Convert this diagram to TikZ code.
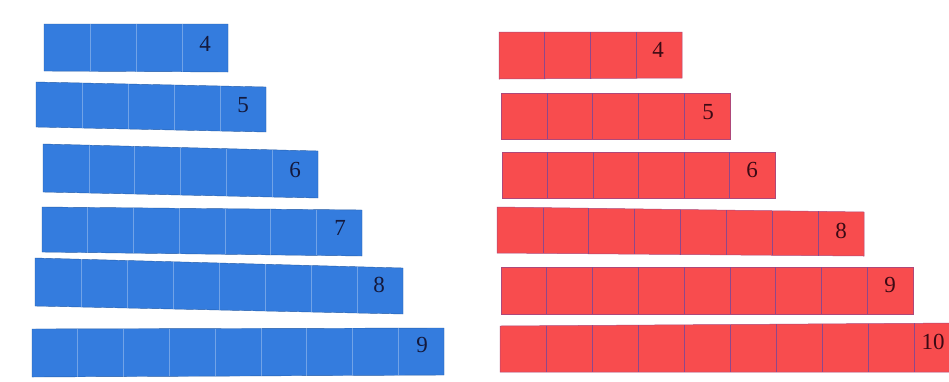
\documentclass[tikz,border=0pt]{standalone}
\usepackage{fontspec}
\setmainfont{Liberation Serif}
\definecolor{barblue}{RGB}{52,124,222}
\definecolor{barred}{RGB}{248,76,78}
\definecolor{redline}{RGB}{125,70,150}
\definecolor{numblue}{RGB}{20,25,60}
\definecolor{numred}{RGB}{60,10,20}
\begin{document}
\begin{tikzpicture}[x=1pt,y=-1pt,
  num/.style={font=\fontsize{23}{23}\selectfont, inner sep=0pt, anchor=center},
  bluenum/.style={num, text=numblue},
  rednum/.style={num, text=numred},
  bluebar/.style={fill=barblue, draw=barblue!75!black, line width=0.4pt},
  redbar/.style={fill=barred, draw=redline!60!barred, line width=0.5pt},
  bluediv/.style={draw=white, draw opacity=0.3, line width=0.6pt},
  reddiv/.style={draw=redline!85!barred, line width=0.6pt}]
\useasboundingbox (0,0) rectangle (949,381);
\fill[white] (0,0) rectangle (949,381);
\clip (0,0) rectangle (949,381);
\foreach \col/\xa/\xb/\tl/\tr/\bl/\br/\cnt/\lx/\ly in {
  blue/44/228/24/24/71/72/4/205/44,
  blue/36/266/82/87/127/132/5/243/105,
  blue/43/318/144/151/192/198/6/295/170,
  blue/42/362/207/210/252/256/7/340/228,
  blue/35/403/258/268/306/314/8/379/285,
  blue/32/444/329/328/377/375/9/422/345,
  red/499/682/32/32/79/78/4/658/50,
  red/501/730/93/93/139/139/5/708/112,
  red/502/775/152/152/198/198/6/752/170,
  red/497/864/207/212/253/256/8/841/231,
  red/501/913/267/267/314/314/9/890/285,
  red/500/960/326/323/372/372/10/933/342}
{
  \draw[\col bar] (\xa,\tl) -- (\xb,\tr) -- (\xb,\br) -- (\xa,\bl) -- cycle;
  \pgfmathtruncatemacro\m{\cnt-1}
  \foreach \k in {1,...,\m} {
    \pgfmathsetmacro\xx{\xa+(\xb-\xa)*\k/\cnt}
    \pgfmathsetmacro\yt{\tl+(\tr-\tl)*\k/\cnt}
    \pgfmathsetmacro\yb{\bl+(\br-\bl)*\k/\cnt}
    \draw[\col div] (\xx,\yt) -- (\xx,\yb);
  }
  \node[\col num] (\col\cnt) at (\lx,\ly) {\cnt};
}
\end{tikzpicture}
\end{document}
